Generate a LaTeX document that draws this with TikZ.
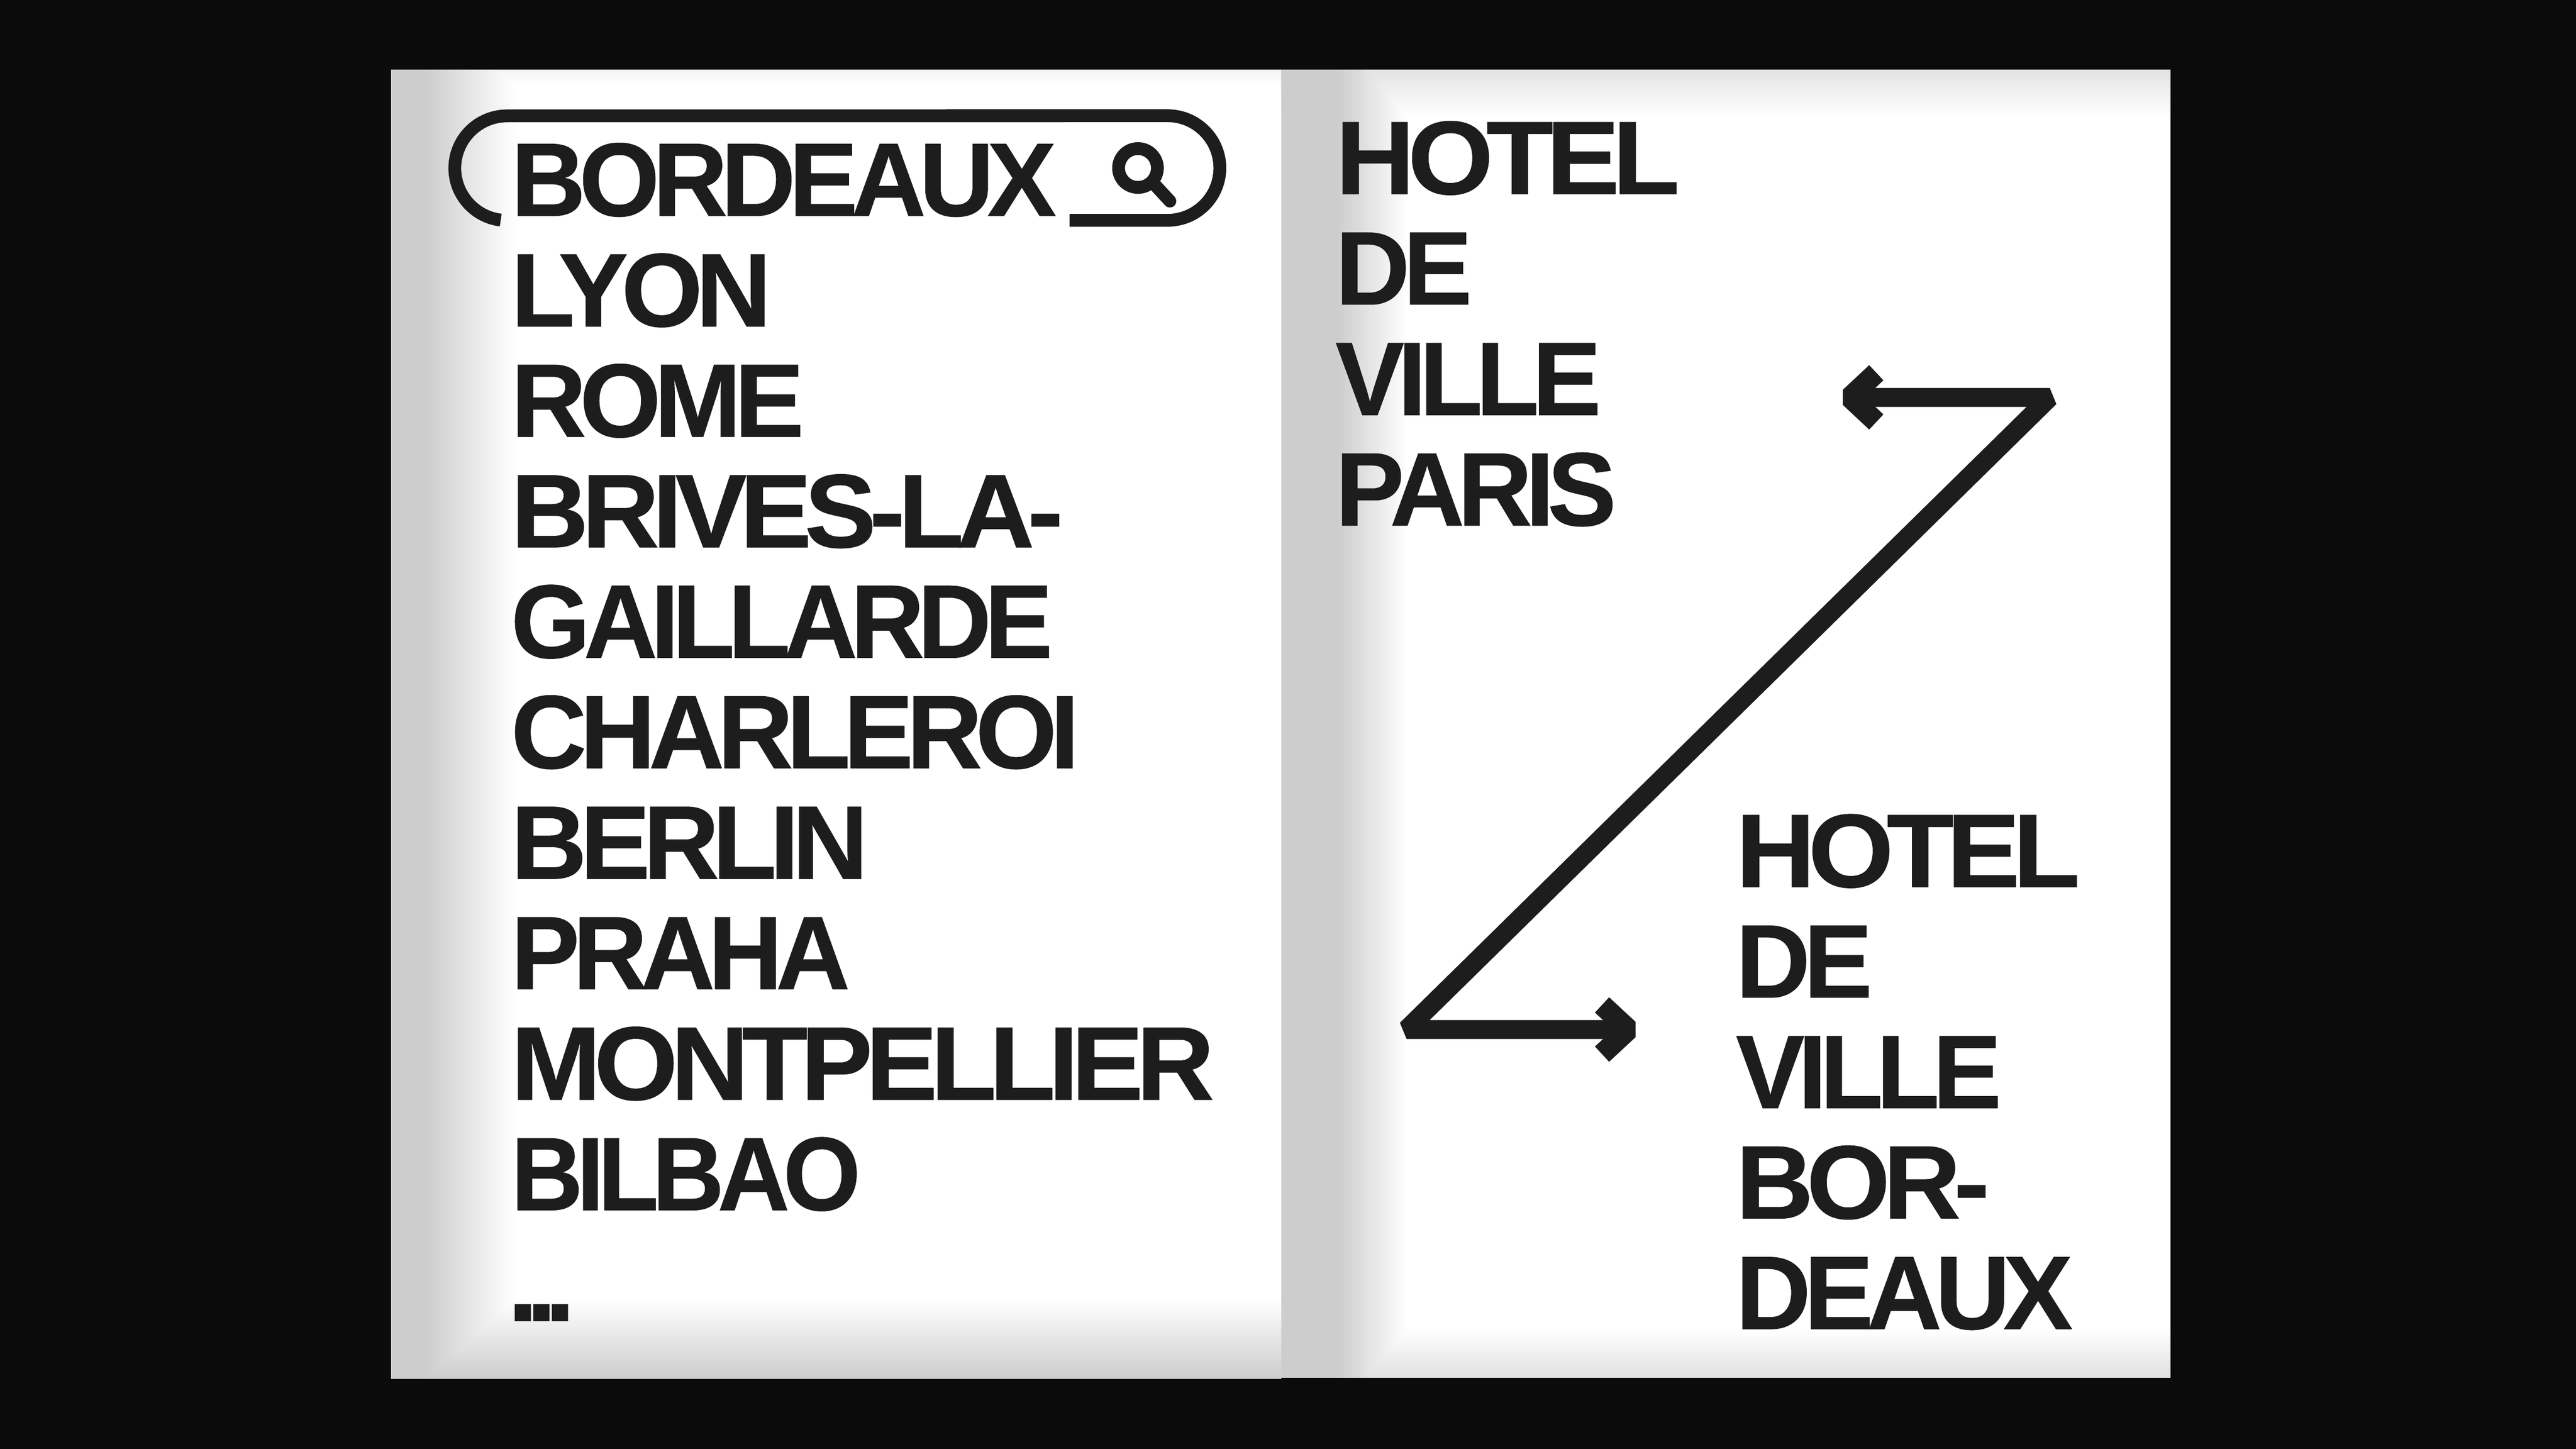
\documentclass[tikz,border=0pt]{standalone}
\usepackage{fontspec}
\setmainfont{Liberation Sans}[LetterSpace=-6.5,BoldFeatures={FakeBold=0.5}]
\newfontfamily\dotfont{Liberation Sans}[LetterSpace=-11.6]
\definecolor{inkblack}{HTML}{1D1D1D}
\definecolor{nightblack}{HTML}{0B0B0B}
\definecolor{foldgrey}{HTML}{CDCDCD}
\tikzset{
  cityname/.style={anchor=base west,inner sep=0pt,text=inkblack,font=\fontsize{62.8}{64}\selectfont\bfseries},
  zline/.style={draw=inkblack,line width=0.4cm,line join=bevel},
  chevron/.style={draw=inkblack,line width=0.44cm,line join=bevel},
  searchline/.style={draw=inkblack,line width=0.27cm}
}
\begin{document}
\begin{tikzpicture}
\useasboundingbox (0,0) rectangle (54.43,30.61);
\fill [nightblack] (0,0) rectangle (54.43,30.61);
% pages
\fill [white] (8.26,1.48) rectangle (27.07,29.14);
\fill [white] (27.07,1.50) rectangle (45.86,29.14);
\begin{scope}[blend mode=darken]
\fill [foldgrey] (8.26,1.48) rectangle (9.0,29.14);
\shade [left color=foldgrey,right color=white] (9.0,1.48) rectangle (10.9,29.14);
\shade [bottom color=foldgrey,top color=white] (8.26,1.48) rectangle (27.07,3.18);
\shade [top color=white!96!black,bottom color=white] (8.26,28.8) rectangle (27.07,29.14);
\fill [foldgrey] (27.07,1.50) rectangle (28.26,29.14);
\shade [left color=foldgrey,right color=white] (28.26,1.50) rectangle (29.74,29.14);
\shade [bottom color=white!88!black,top color=white] (27.07,1.50) rectangle (45.86,2.54);
\shade [top color=white!89!black,bottom color=white] (27.07,28.13) rectangle (45.86,29.14);
\end{scope}
% left page
\foreach \cityname/\stretch [count=\i from 0] in {BORDEAUX/0.991,LYON/1.0,ROME/1.0,BRIVES-LA-/1.029,GAILLARDE/0.976,CHARLEROI/1.003,BERLIN/1.006,PRAHA/0.985,MONTPELLIER/1.033,BILBAO/0.954}
  \node [cityname] (city\i) at (10.79,{26.05-2.334*\i}) {\scalebox{\stretch}[1]{\cityname}};
\node [cityname,font=\fontsize{69}{69}\selectfont\dotfont\bfseries] (more) at (10.71,2.69) {...};
% search box
\draw [searchline] (10.58,25.96) arc [start angle=263,end angle=90,radius=1.105] -- (24.67,28.165) arc [start angle=90,end angle=-90,radius=1.105] -- (22.60,25.955);
\draw [searchline] (24.045,27.06) circle (0.41);
\draw [searchline,line cap=round] (24.36,26.75) -- (24.72,26.36);
% right page
\foreach \word/\stretch [count=\i from 0] in {HOTEL/1.053,DE/0.987,VILLE/0.988,PARIS/0.988}
  \node [cityname] (paris\i) at (28.21,{26.51-2.334*\i}) {\scalebox{\stretch}[1]{\word}};
\foreach \word/\stretch [count=\i from 0] in {HOTEL/1.053,DE/0.987,VILLE/0.988,BOR-/1.029,DEAUX/0.995}
  \node [cityname] (bordeaux\i) at (36.67,{11.87-2.334*\i}) {\scalebox{\stretch}[1]{\word}};
% arrow
\coordinate (start) at (39.10,22.215);
\coordinate (top) at (43.31,22.215);
\coordinate (bottom) at (29.72,8.86);
\coordinate (end) at (34.30,8.86);
\draw [zline] (start) -- (top) -- (bottom) -- (end);
\draw [chevron] (39.645,22.735) -- (39.09,22.215) -- (39.645,21.695);
\draw [chevron] (33.85,9.38) -- (34.41,8.86) -- (33.85,8.34);
\end{tikzpicture}
\end{document}
